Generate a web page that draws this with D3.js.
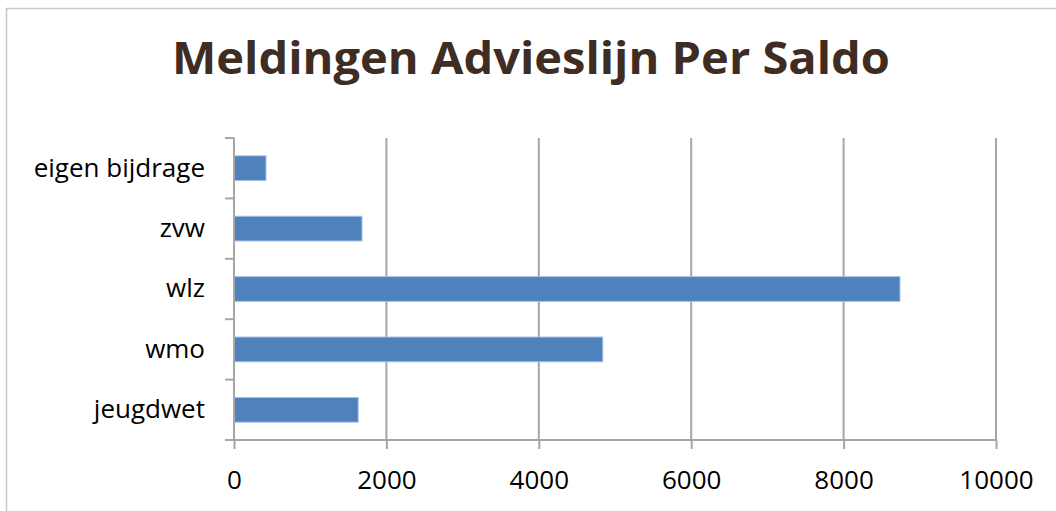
<!DOCTYPE html>
<html><head><meta charset="utf-8">
<script src="https://cdn.jsdelivr.net/npm/d3@7"></script>
<style>
html,body{margin:0;padding:0;background:#fff;}
svg{display:block;}
</style></head>
<body>
<script>
const categories = ["eigen bijdrage", "zvw", "wlz", "wmo", "jeugdwet"];
const values = [420, 1680, 8740, 4840, 1630];
const xTicks = [0, 2000, 4000, 6000, 8000, 10000];
const title = "Meldingen Advieslijn Per Saldo";

const W = 1056, H = 511;
const svg = d3.select("body").append("svg").attr("width", W).attr("height", H);
svg.append("rect").attr("width", W).attr("height", H).attr("fill", "#fff");
// outer chart border
svg.append("rect").attr("x", 6.5).attr("y", 8.5).attr("width", W + 10).attr("height", H + 10)
  .attr("fill", "none").attr("stroke", "#c6c6c6").attr("stroke-width", 1.5);

const m = {left: 234, right: 996, top: 138, bottom: 440};
const x = d3.scaleLinear().domain([0, 10000]).range([m.left, m.right]);
const y = d3.scaleBand().domain(categories).range([m.top, m.bottom]).paddingInner(0.59).paddingOuter(0.295);
const yb = d3.scaleBand().domain(categories).range([m.top, m.bottom]);

const gridColor = "#a6a6a6";
const font = "'Open Sans', sans-serif";
// gridlines
svg.append("g").selectAll("line").data(xTicks.slice(1)).join("line")
  .attr("x1", d => x(d)).attr("x2", d => x(d)).attr("y1", m.top).attr("y2", m.bottom)
  .attr("stroke", gridColor).attr("stroke-width", 2);

// bars
svg.append("g").selectAll("rect").data(categories).join("rect")
  .attr("x", x(0)).attr("y", d => y(d)).attr("height", y.bandwidth())
  .attr("width", (d, i) => x(values[i]) - x(0))
  .attr("fill", "#4f81bd").attr("stroke", "#a9c3e6").attr("stroke-width", 1);

// x axis
const xa = svg.append("g").attr("transform", `translate(0,${m.bottom})`)
  .call(d3.axisBottom(x).tickValues(xTicks).tickSize(9).tickPadding(22).tickFormat(d3.format("d")));
xa.select(".domain").attr("stroke", gridColor).attr("stroke-width", 2).attr("d", `M${m.left},0H${m.right}`);
xa.selectAll(".tick line").attr("stroke", gridColor).attr("stroke-width", 2);
xa.selectAll("text").attr("font-family", font).attr("font-size", 26).attr("fill", "#000");

// y axis
const ya = svg.append("g").attr("transform", `translate(${m.left},0)`)
  .call(d3.axisLeft(yb).tickSize(0).tickPadding(29));
ya.select(".domain").attr("stroke", gridColor).attr("stroke-width", 2).attr("d", `M0,${m.top}V${m.bottom}`);
ya.selectAll("text").attr("font-family", font).attr("font-size", 26).attr("fill", "#000");
// category boundary ticks
const bounds = categories.map(c => yb(c)).concat([m.bottom]);
ya.append("g").selectAll("line").data(bounds).join("line")
  .attr("x1", -9).attr("x2", 0).attr("y1", d => d).attr("y2", d => d)
  .attr("stroke", gridColor).attr("stroke-width", 2);

// title
svg.append("text").attr("x", 531).attr("y", 74).attr("text-anchor", "middle")
  .attr("font-family", font).attr("font-weight", "bold").attr("font-size", 44)
  .attr("textLength", 718).attr("lengthAdjust", "spacingAndGlyphs")
  .attr("fill", "#3f2c22").text(title);
</script>
</body></html>
